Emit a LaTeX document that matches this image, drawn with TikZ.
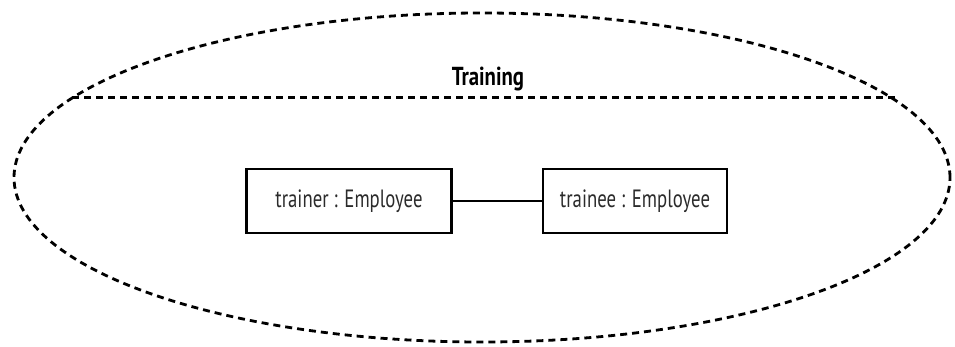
\documentclass[tikz,border=0pt]{standalone}
\usepackage{fontspec}
\usepackage{xcolor}
\usepackage{tikz}
\usetikzlibrary{positioning, shapes.geometric}
\newfontfamily\umlfont{PT Sans}[FakeStretch=0.75]
\newfontfamily\umltitlefont{PT Sans}[FakeStretch=0.8]
\definecolor{umltext}{HTML}{2B2B2B}

\begin{document}
\begin{tikzpicture}[
    x=1pt, y=-1pt,
    collab/.style={draw, dashed, ellipse, line width=2.8pt, dash pattern=on 7pt off 5pt,
                   minimum width=936pt, minimum height=329pt, inner sep=0pt, outer sep=0pt},
    compart/.style={dashed, line width=2.8pt, dash pattern=on 7pt off 5pt},
    role/.style={draw, line width=2.6pt, minimum height=64pt, inner sep=0pt,
                 font=\umlfont\fontsize{25}{27}\selectfont, text=umltext},
    link/.style={line width=2.2pt},
    title/.style={font=\umltitlefont\bfseries\fontsize{26}{28}\selectfont, text=black},
]
\useasboundingbox (0,0) rectangle (955,347);

% Collaboration ellipse
\node[collab] (training) at (482, 177.5) {};
\draw[compart] (training.169.2) -- (training.169.2 -| training.10.8);
\node[title] (name) at (488, 79) {Training};

% Roles
\node[role, minimum width=205pt] (trainer) at (349, 201) {trainer : Employee};
\node[role, minimum width=184pt] (trainee) at (635, 201) {trainee : Employee};

\draw[link] (trainer.east) -- (trainee.west);

\end{tikzpicture}
\end{document}
